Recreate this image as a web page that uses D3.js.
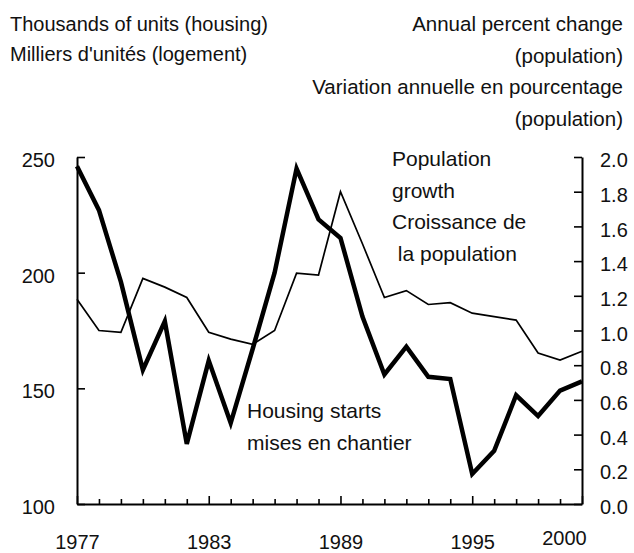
<!DOCTYPE html>
<html>
<head>
<meta charset="utf-8">
<script src="https://cdn.jsdelivr.net/npm/d3@7"></script>
<style>
  body { margin: 0; background: #fff; }
  svg text { font-family: "Liberation Sans", Arial, sans-serif; fill: #111; }
</style>
</head>
<body>
<svg width="634" height="553"></svg>
<script>
// years on the x axis, and the two series
var years = d3.range(1977, 2001);
var housingStarts = [246, 227, 196, 158, 179, 126, 162, 135, 167, 200, 245, 223,
  215, 181, 156, 168, 155, 154, 113, 123, 147, 138, 149, 153];
var populationGrowth = [1.18, 1.0, 0.99, 1.30, 1.25, 1.19, 0.99, 0.95, 0.92, 1.0, 1.33, 1.32,
  1.80, 1.50, 1.19, 1.23, 1.15, 1.16, 1.10, 1.08, 1.06, 0.87, 0.83, 0.88];

// tick values and labels
var leftTicks = [100, 150, 200, 250];
var rightTicks = [0, 0.2, 0.4, 0.6, 0.8, 1.0, 1.2, 1.4, 1.6, 1.8, 2.0];
var labelledYears = [1977, 1983, 1989, 1995, 2000];

var leftTitle = ["Thousands of units (housing)", "Milliers d'unités (logement)"];
var rightTitle = ["Annual percent change", "(population)", "Variation annuelle en pourcentage", "(population)"];
var popLabel = ["Population", "growth", "Croissance de", " la population"];
var housingLabel = ["Housing starts", "mises en chantier"];

var svg = d3.select("svg");

var x = d3.scaleLinear().domain([1977, 2000]).range([77, 582]);
var yLeft = d3.scaleLinear().domain([100, 250]).range([504, 157]);
var yRight = d3.scaleLinear().domain([0, 2]).range([504, 157]);

// left axis (housing)
var leftAxis = svg.append("g")
  .attr("transform", "translate(77,0)")
  .call(d3.axisLeft(yLeft).tickValues(leftTicks).tickSizeInner(-8).tickSizeOuter(0).tickPadding(22));

// right axis (population)
var rightAxis = svg.append("g")
  .attr("transform", "translate(582,0)")
  .call(d3.axisRight(yRight).tickValues(rightTicks).tickFormat(d3.format(".1f"))
    .tickSizeInner(-8).tickSizeOuter(0).tickPadding(18));

// bottom axis, a tick every year, longer ones under the labelled years
var bottomAxis = svg.append("g")
  .attr("transform", "translate(0,504)")
  .call(d3.axisBottom(x).tickValues(years)
    .tickFormat(function(d) { return labelledYears.includes(d) ? d : ""; })
    .tickSizeInner(-5).tickSizeOuter(0).tickPadding(31));

bottomAxis.selectAll(".tick")
  .filter(function(d) { return labelledYears.includes(d); })
  .select("line").attr("y2", -8);

// the 2000 label sits a little left and higher
bottomAxis.selectAll(".tick")
  .filter(function(d) { return d === 2000; })
  .select("text").attr("x", -18).attr("y", 27);

[leftAxis, rightAxis, bottomAxis].forEach(function(a) {
  a.select(".domain").attr("stroke", "#000").attr("stroke-width", 2);
  a.selectAll(".tick line").attr("stroke", "#000").attr("stroke-width", 1.6);
  a.selectAll(".tick text").style("font-size", "20px").attr("fill", "#111");
});
leftAxis.selectAll(".tick text").attr("dy", "0.48em");
rightAxis.selectAll(".tick text").attr("dy", "0.48em");

// population growth (thin line)
svg.append("path")
  .datum(populationGrowth)
  .attr("fill", "none")
  .attr("stroke", "#000")
  .attr("stroke-width", 1.7)
  .attr("stroke-linejoin", "miter")
  .attr("d", d3.line()
    .x(function(d, i) { return x(years[i]); })
    .y(function(d) { return yRight(d); }));

// housing starts (thick line)
svg.append("path")
  .datum(housingStarts)
  .attr("fill", "none")
  .attr("stroke", "#000")
  .attr("stroke-width", 4.5)
  .attr("stroke-linejoin", "miter")
  .attr("d", d3.line()
    .x(function(d, i) { return x(years[i]); })
    .y(function(d) { return yLeft(d); }));

// titles above the axes
svg.selectAll("text.left-title")
  .data(leftTitle)
  .enter()
  .append("text")
  .attr("class", "left-title")
  .attr("x", 10)
  .attr("y", function(d, i) { return 31 + i * 30; })
  .style("font-size", "20px")
  .text(function(d) { return d; });

svg.selectAll("text.right-title")
  .data(rightTitle)
  .enter()
  .append("text")
  .attr("class", "right-title")
  .attr("x", 623)
  .attr("y", function(d, i) { return 31 + i * 31.5; })
  .attr("text-anchor", "end")
  .style("font-size", "20.5px")
  .text(function(d) { return d; });

// series labels inside the plot
svg.selectAll("text.pop-label")
  .data(popLabel)
  .enter()
  .append("text")
  .attr("class", "pop-label")
  .attr("x", 392)
  .attr("y", function(d, i) { return 166 + i * 31.7; })
  .style("font-size", "21px")
  .style("white-space", "pre")
  .text(function(d) { return d; });

svg.selectAll("text.housing-label")
  .data(housingLabel)
  .enter()
  .append("text")
  .attr("class", "housing-label")
  .attr("x", 247)
  .attr("y", function(d, i) { return 418 + i * 31.7; })
  .style("font-size", "21px")
  .text(function(d) { return d; });
</script>
</body>
</html>
